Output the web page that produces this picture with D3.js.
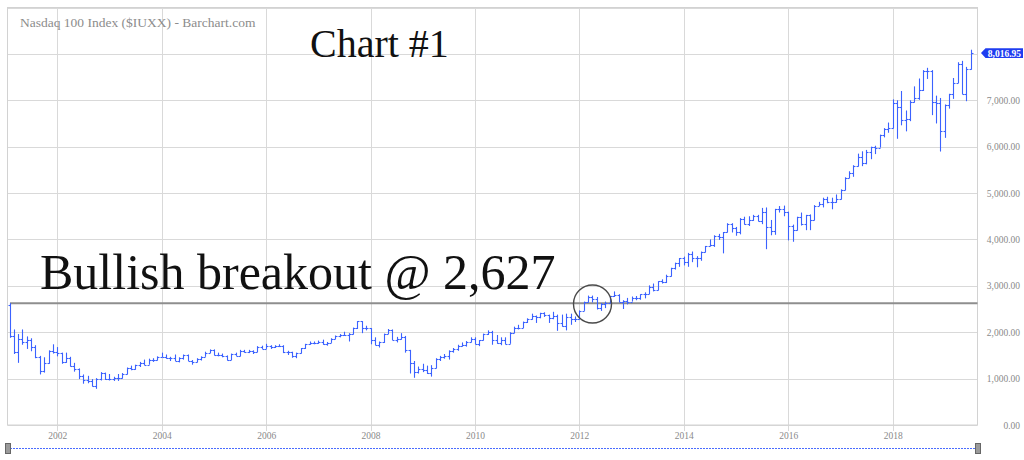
<!DOCTYPE html>
<html><head><meta charset="utf-8">
<script src="https://cdn.jsdelivr.net/npm/d3@7/dist/d3.min.js"></script>
<style>html,body{margin:0;padding:0;background:#fff;}svg{display:block;}</style>
</head><body>
<svg id="chart" width="1024" height="460"></svg>
<script>
// ---- data: monthly OHLC, Feb 2001 .. Jul 2019 ----
const firstMonth = new Date(2001, 1, 1);
const lastMonth = new Date(2019, 6, 1);
const opens = [
 2593,1908,1573,1855,1800,1830,1684,1469,1168,1330,1595,
 1577,1550,1359,1452,1277,1208,1051,963,942,833,989,1116,
 984,986,1012,1018,1106,1228,1201,1286,1344,1303,1409,1404,
 1468,1476,1442,1438,1383,1437,1517,1387,1362,1412,1474,1560,
 1621,1519,1499,1483,1411,1529,1493,1605,1578,1601,1579,1688,
 1645,1707,1675,1703,1701,1579,1575,1478,1551,1654,1740,1776,
 1757,1793,1748,1772,1863,1924,1934,1932,1967,2091,2239,2088,
 2085,1842,1725,1781,1970,2050,1838,1850,1899,1606,1330,1148,
 1212,1179,1113,1237,1412,1459,1477,1598,1632,1713,1720,1790,
 1860,1741,1823,1957,2000,1843,1759,1839,1752,1990,2097,2091,
 2217,2283,2343,2338,2411,2367,2296,2359,2200,2138,2329,2278,
 2278,2466,2661,2755,2720,2532,2615,2632,2772,2799,2660,2670,
 2660,2731,2738,2818,2829,2982,2909,3094,3074,3218,3377,3487,
 3592,3521,3697,3596,3592,3737,3850,3889,4083,4050,4158,4342,
 4236,4152,4446,4334,4415,4508,4397,4589,4274,4181,4648,4665,
 4593,4280,4202,4483,4341,4524,4418,4730,4771,4875,4801,4810,
 4864,5072,5331,5436,5584,5788,5647,5880,5988,5980,6248,6374,
 6397,6950,6856,6582,6607,6967,7040,7232,7622,7627,6968,6949,
 6330,6907,7133,7378,7781,7128,7672
];
const highs = [
 2627,2060,1960,2060,1910,1870,1720,1490,1460,1610,1740,
 1680,1560,1560,1470,1340,1220,1090,1060,990,1010,1140,1130,
 1100,1040,1100,1120,1240,1280,1300,1360,1410,1430,1440,1480,
 1560,1520,1470,1520,1460,1520,1520,1400,1440,1480,1580,1630,
 1630,1560,1540,1500,1540,1560,1620,1620,1620,1610,1700,1710,
 1750,1720,1720,1740,1720,1600,1580,1560,1660,1750,1800,1800,
 1820,1840,1790,1870,1930,1960,2010,1980,2100,2240,2240,2140,
 2090,1890,1800,1970,2070,2060,1900,1980,1920,1620,1380,1260,
 1320,1280,1290,1440,1490,1530,1610,1660,1730,1780,1810,1890,
 1890,1830,1970,2040,2030,1940,1890,1890,2000,2120,2160,2230,
 2300,2400,2360,2420,2430,2380,2440,2380,2380,2400,2400,2340,
 2470,2660,2790,2790,2760,2630,2660,2780,2880,2820,2690,2740,
 2770,2780,2820,2860,3010,3050,3100,3140,3240,3390,3500,3600,
 3630,3710,3740,3640,3740,3860,4000,4090,4120,4160,4350,4350,
 4270,4460,4490,4500,4530,4530,4680,4690,4420,4660,4720,4730,
 4600,4320,4490,4580,4530,4540,4740,4810,4900,4920,4900,4970,
 5080,5340,5470,5600,5850,5900,5930,6000,6020,6260,6400,6520,
 7020,7000,7200,6780,7000,7300,7470,7650,7700,7650,7100,7050,
 6910,7140,7480,7820,7850,7720,8090
];
const lows = [
 1880,1531,1340,1730,1640,1590,1440,1090,1130,1320,1540,
 1480,1320,1340,1260,1150,990,890,900,830,780,960,970,
 960,950,950,1000,1090,1180,1190,1250,1290,1300,1360,1390,
 1460,1430,1380,1380,1350,1410,1380,1300,1350,1390,1470,1550,
 1500,1480,1460,1390,1400,1490,1480,1560,1550,1530,1570,1640,
 1640,1640,1660,1680,1550,1510,1450,1440,1540,1640,1730,1740,
 1750,1730,1710,1770,1850,1890,1920,1800,1950,2070,1980,2040,
 1740,1720,1670,1770,1960,1830,1780,1840,1560,1110,1018,1110,
 1140,1100,1043,1220,1380,1430,1410,1560,1600,1690,1690,1780,
 1740,1700,1820,1940,1730,1750,1720,1740,1750,1980,2060,2090,
 2200,2270,2200,2300,2330,2200,2280,2030,2120,2040,2160,2220,
 2270,2460,2640,2640,2490,2460,2520,2620,2760,2650,2500,2600,
 2660,2690,2700,2730,2820,2880,2900,3050,3060,3200,3350,3410,
 3440,3410,3510,3400,3540,3720,3850,3840,3990,3700,4150,4150,
 4080,4110,4320,4290,4400,4390,4330,3790,4090,4100,4580,4500,
 3980,3950,4190,4300,4200,4200,4410,4720,4690,4780,4650,4790,
 4860,5060,5320,5350,5570,5580,5620,5730,5840,5980,6200,6300,
 6390,6170,6460,6330,6550,6950,7010,7200,7460,6680,6500,5895,
 6190,6820,7030,7370,7130,6980,7660
];
const closes = [
 1908,1573,1855,1800,1830,1684,1469,1168,1330,1595,1577,
 1550,1359,1452,1277,1208,1051,963,942,833,989,1116,984,
 986,1012,1018,1106,1228,1201,1286,1344,1303,1409,1404,1468,
 1476,1442,1438,1383,1437,1517,1387,1362,1412,1474,1560,1621,
 1519,1499,1483,1411,1529,1493,1605,1578,1601,1579,1688,1645,
 1707,1675,1703,1701,1579,1575,1478,1551,1654,1740,1776,1757,
 1793,1748,1772,1863,1924,1934,1932,1967,2091,2239,2088,2085,
 1842,1725,1781,1970,2050,1838,1850,1899,1606,1330,1148,1212,
 1179,1113,1237,1412,1459,1477,1598,1632,1713,1720,1790,1860,
 1741,1823,1957,2000,1843,1759,1839,1752,1990,2097,2091,2217,
 2283,2343,2338,2411,2367,2296,2359,2200,2138,2329,2278,2278,
 2466,2661,2755,2720,2532,2615,2632,2772,2799,2660,2670,2660,
 2731,2738,2818,2829,2982,2909,3094,3074,3218,3377,3487,3592,
 3521,3697,3596,3592,3737,3850,3889,4083,4050,4158,4342,4236,
 4152,4446,4334,4415,4508,4397,4589,4274,4181,4648,4665,4593,
 4280,4202,4483,4341,4524,4418,4730,4771,4875,4801,4810,4864,
 5072,5331,5436,5584,5788,5647,5880,5988,5980,6248,6374,6397,
 6950,6856,6582,6607,6967,7040,7232,7622,7627,6968,6949,6330,
 6907,7133,7378,7781,7128,7672,8017
];
const yTicks = [0,1000,2000,3000,4000,5000,6000,7000];
const yGrid = [0,1000,2000,3000,4000,5000,6000,7000,8000,9000];
const xTickYears = [2002,2004,2006,2008,2010,2012,2014,2016,2018];
const lastPrice = 8016.95;
const breakoutLevel = 2627;
const titleText = "Nasdaq 100 Index ($IUXX) - Barchart.com";
const chartLabel = "Chart #1";
const breakoutText = "Bullish breakout @ 2,627";

// ---- layout ----
const plotL = 7.5, plotR = 977.5, plotT = 7.5, plotB = 425;
const svg = d3.select("#chart");
const serif = "'Liberation Serif','Times New Roman',serif";
const barColor = "#3b62ff";

const x = d3.scaleTime()
  .domain([new Date(2002,0,1), new Date(2018,0,1)])
  .range([57.3, 892.7]);
const y = d3.scaleLinear().domain([0, 9000]).range([plotB, plotT]);

const months = d3.timeMonth.range(firstMonth, d3.timeMonth.offset(lastMonth, 1));
const data = months.map((d, i) => ({date: d, o: opens[i], h: highs[i], l: lows[i], c: closes[i]}));

// gridlines
svg.append("g").selectAll("line").data(yGrid).join("line")
  .attr("x1", plotL).attr("x2", plotR)
  .attr("y1", d => Math.round(y(d)) + 0.5).attr("y2", d => Math.round(y(d)) + 0.5)
  .attr("stroke", "#d9d9d9").attr("stroke-width", 1);
svg.append("g").selectAll("line").data(xTickYears).join("line")
  .attr("x1", d => Math.round(x(new Date(d,0,1))) + 0.5)
  .attr("x2", d => Math.round(x(new Date(d,0,1))) + 0.5)
  .attr("y1", plotT).attr("y2", plotB + 6)
  .attr("stroke", "#d9d9d9").attr("stroke-width", 1);
// plot border
svg.append("rect").attr("x", plotL).attr("y", plotT)
  .attr("width", plotR - plotL).attr("height", plotB - plotT)
  .attr("fill", "none").attr("stroke", "#d2d2d2");

// axis labels
const yAxis = d3.axisRight(y).tickValues(yTicks).tickSize(0).tickPadding(0)
  .tickFormat(d => d3.format(",.2f")(d));
const ya = svg.append("g").attr("transform", `translate(1020,0)`).call(yAxis);
ya.select(".domain").remove();
ya.selectAll("text").attr("text-anchor", "end").attr("x", 0)
  .attr("font-family", serif).attr("font-size", 9.5).attr("fill", "#8a8a8a");

const xAxis = d3.axisBottom(x).tickValues(xTickYears.map(d => new Date(d,0,1)))
  .tickSize(0).tickPadding(0).tickFormat(d3.timeFormat("%Y"));
const xa = svg.append("g").attr("transform", `translate(0,432)`).call(xAxis);
xa.select(".domain").remove();
xa.selectAll("text").attr("font-family", serif).attr("font-size", 9.5).attr("fill", "#8a8a8a");

// title
svg.append("text").attr("x", 20).attr("y", 27).text(titleText)
  .attr("font-family", serif).attr("font-size", 13.5).attr("fill", "#8c8c8c");

// breakout line
svg.append("line")
  .attr("x1", Math.round(x(firstMonth)) ).attr("x2", plotR)
  .attr("y1", y(breakoutLevel)).attr("y2", y(breakoutLevel))
  .attr("stroke", "#8e8e8e").attr("stroke-width", 2);

// OHLC bars
const bars = svg.append("g").attr("stroke", barColor).attr("stroke-width", 1.1).attr("fill", "none");
const bx = d => Math.round(x(d.date)) + 0.5;
bars.selectAll(".hl").data(data).join("line")
  .attr("x1", bx).attr("x2", bx)
  .attr("y1", d => y(d.h)).attr("y2", d => y(d.l));
bars.selectAll(".op").data(data).join("line")
  .attr("x1", d => bx(d) - 2).attr("x2", bx)
  .attr("y1", d => Math.round(y(d.o)) + 0.5).attr("y2", d => Math.round(y(d.o)) + 0.5);
bars.selectAll(".cl").data(data).join("line")
  .attr("x1", bx).attr("x2", d => bx(d) + 2)
  .attr("y1", d => Math.round(y(d.c)) + 0.5).attr("y2", d => Math.round(y(d.c)) + 0.5);

// circle
svg.append("circle").attr("cx", 592.5).attr("cy", 304).attr("r", 19)
  .attr("fill", "none").attr("stroke", "#4a4a4a").attr("stroke-width", 1.4);

// annotations
svg.append("text").attr("x", 310).attr("y", 57).text(chartLabel)
  .attr("font-family", serif).attr("font-size", 40).attr("fill", "#111");
svg.append("text").attr("x", 40).attr("y", 289).text(breakoutText)
  .attr("font-family", serif).attr("font-size", 50).attr("fill", "#111");

// last price tag
const py = y(lastPrice);
svg.append("path")
  .attr("d", `M981,${py} L985.5,${py-4.8} L1023,${py-4.8} L1023,${py+4.8} L985.5,${py+4.8} Z`)
  .attr("fill", "#1f3df0");
svg.append("text").attr("x", 1021).attr("y", py + 3.4).attr("text-anchor", "end")
  .text(d3.format(",.2f")(lastPrice))
  .attr("font-family", serif).attr("font-size", 9.5).attr("font-weight", "bold").attr("fill", "#fff");

// scrollbar
svg.append("line").attr("x1", 10).attr("x2", 975).attr("y1", 448.5).attr("y2", 448.5)
  .attr("stroke", "#4a6cff").attr("stroke-width", 1).attr("stroke-dasharray", "2,1");
[5, 975].forEach(hx => {
  svg.append("rect").attr("x", hx + 0.5).attr("y", 443.5).attr("width", 5).attr("height", 10)
    .attr("fill", "#9a9a9a").attr("stroke", "#666");
});
</script>
</body></html>
